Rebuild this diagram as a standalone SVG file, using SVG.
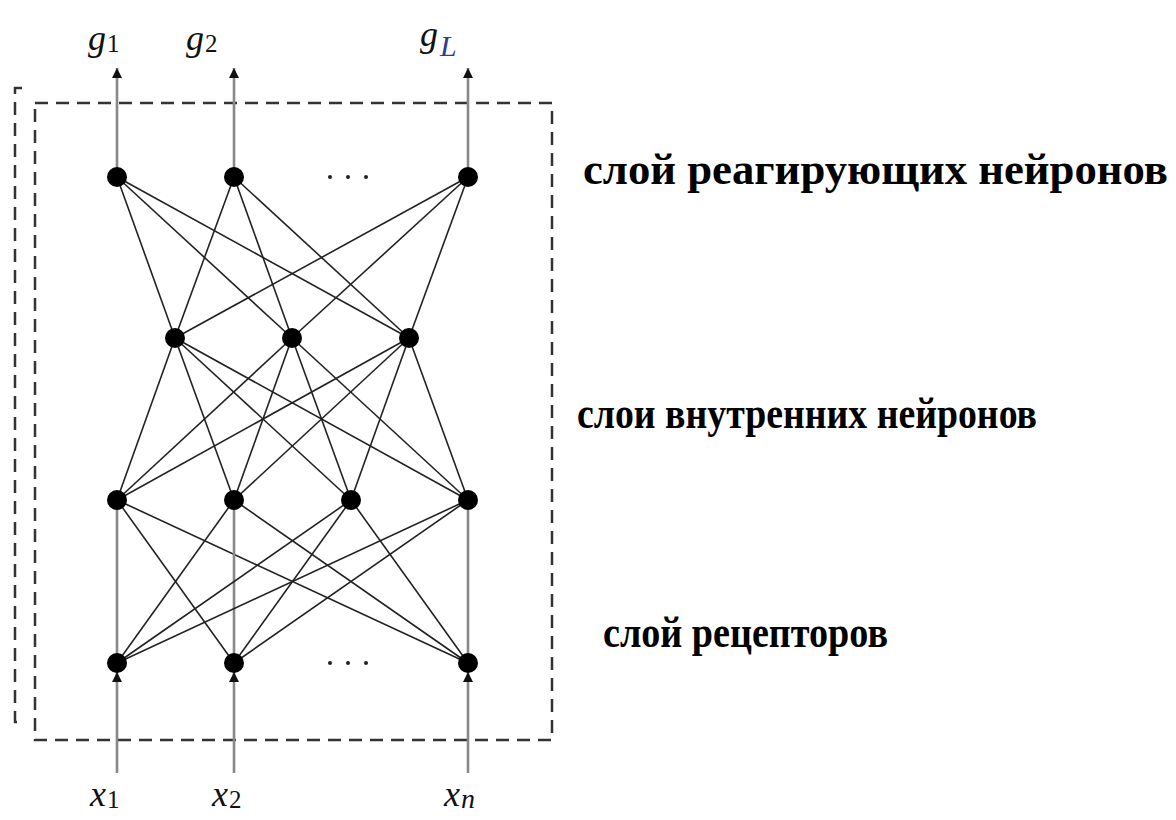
<svg xmlns="http://www.w3.org/2000/svg" width="1176" height="820" viewBox="0 0 1176 820">
<defs>
<marker id="ah" viewBox="0 0 10 10" refX="10" refY="5" markerWidth="4" markerHeight="4" orient="auto"><path d="M0,0 L10,5 L0,10 z" fill="#111"/></marker>
<style>
.e{stroke:#222;stroke-width:1.6;fill:none}
.v{stroke:#888;stroke-width:2.6;fill:none}
.io{stroke:#888;stroke-width:2.6;fill:none;marker-end:url(#ah)}
.n{fill:#000}
.d{fill:#222}
.box{stroke:#333;stroke-width:2.5;fill:none;stroke-dasharray:13 8}
.lbl{font-family:"Liberation Serif",serif;font-weight:bold;font-size:44px;fill:#000}
.m{font-family:"Liberation Serif",serif;font-style:italic;font-size:36px;fill:#111}
.s{font-family:"Liberation Serif",serif;font-style:normal;font-size:25px;fill:#111}
</style>
</defs>
<rect width="1176" height="820" fill="#fff"/>
<g id="frame">
<rect class="box" x="35" y="103" width="517" height="637"/>
<path class="box" d="M22,88 H15 V722 H22"/>
</g>
<g id="connectors">
<line class="e" x1="117" y1="177" x2="175" y2="338"/>
<line class="e" x1="117" y1="177" x2="292" y2="338"/>
<line class="e" x1="117" y1="177" x2="409" y2="338"/>
<line class="e" x1="234" y1="177" x2="175" y2="338"/>
<line class="e" x1="234" y1="177" x2="292" y2="338"/>
<line class="e" x1="234" y1="177" x2="409" y2="338"/>
<line class="e" x1="468" y1="177" x2="175" y2="338"/>
<line class="e" x1="468" y1="177" x2="292" y2="338"/>
<line class="e" x1="468" y1="177" x2="409" y2="338"/>
<line class="e" x1="175" y1="338" x2="117" y2="500"/>
<line class="e" x1="175" y1="338" x2="234" y2="500"/>
<line class="e" x1="175" y1="338" x2="351" y2="500"/>
<line class="e" x1="175" y1="338" x2="468" y2="500"/>
<line class="e" x1="292" y1="338" x2="117" y2="500"/>
<line class="e" x1="292" y1="338" x2="234" y2="500"/>
<line class="e" x1="292" y1="338" x2="351" y2="500"/>
<line class="e" x1="292" y1="338" x2="468" y2="500"/>
<line class="e" x1="409" y1="338" x2="117" y2="500"/>
<line class="e" x1="409" y1="338" x2="234" y2="500"/>
<line class="e" x1="409" y1="338" x2="351" y2="500"/>
<line class="e" x1="409" y1="338" x2="468" y2="500"/>
<line class="v" x1="117" y1="500" x2="117" y2="663"/>
<line class="e" x1="117" y1="500" x2="234" y2="663"/>
<line class="e" x1="117" y1="500" x2="468" y2="663"/>
<line class="e" x1="234" y1="500" x2="117" y2="663"/>
<line class="v" x1="234" y1="500" x2="234" y2="663"/>
<line class="e" x1="234" y1="500" x2="468" y2="663"/>
<line class="e" x1="351" y1="500" x2="117" y2="663"/>
<line class="e" x1="351" y1="500" x2="234" y2="663"/>
<line class="e" x1="351" y1="500" x2="468" y2="663"/>
<line class="e" x1="468" y1="500" x2="117" y2="663"/>
<line class="e" x1="468" y1="500" x2="234" y2="663"/>
<line class="v" x1="468" y1="500" x2="468" y2="663"/>
<line class="io" x1="117" y1="168" x2="117" y2="68"/>
<line class="io" x1="234" y1="168" x2="234" y2="68"/>
<line class="io" x1="468" y1="168" x2="468" y2="68"/>
<line class="io" x1="117" y1="773" x2="117" y2="672"/>
<line class="io" x1="234" y1="773" x2="234" y2="672"/>
<line class="io" x1="468" y1="773" x2="468" y2="672"/>
</g>
<g id="layer-output">
<circle class="n" cx="117" cy="177" r="10"/>
<circle class="n" cx="234" cy="177" r="10"/>
<circle class="n" cx="468" cy="177" r="10"/>
<circle class="d" cx="330" cy="177" r="2"/><circle class="d" cx="348" cy="177" r="2"/><circle class="d" cx="366" cy="177" r="2"/>
</g>
<g id="layer-hidden1">
<circle class="n" cx="175" cy="338" r="10"/>
<circle class="n" cx="292" cy="338" r="10"/>
<circle class="n" cx="409" cy="338" r="10"/>
</g>
<g id="layer-hidden2">
<circle class="n" cx="117" cy="500" r="10"/>
<circle class="n" cx="234" cy="500" r="10"/>
<circle class="n" cx="351" cy="500" r="10"/>
<circle class="n" cx="468" cy="500" r="10"/>
</g>
<g id="layer-input">
<circle class="n" cx="117" cy="663" r="10"/>
<circle class="n" cx="234" cy="663" r="10"/>
<circle class="n" cx="468" cy="663" r="10"/>
<circle class="d" cx="330" cy="663" r="2"/><circle class="d" cx="348" cy="663" r="2"/><circle class="d" cx="366" cy="663" r="2"/>
</g>
<g id="labels-math">
<text class="m" x="88" y="50">g<tspan class="s" dx="1" dy="2">1</tspan></text>
<text class="m" x="186" y="50">g<tspan class="s" dx="1" dy="2">2</tspan></text>
<text class="m" x="420" y="46">g<tspan font-size="30" dx="2" dy="10" fill="#2a3f8a">L</tspan></text>
<text class="m" x="90" y="806">x<tspan class="s" dx="1" dy="2">1</tspan></text>
<text class="m" x="212" y="806">x<tspan class="s" dx="1" dy="2">2</tspan></text>
<text class="m" x="444" y="806">x<tspan font-size="28" dx="1" dy="2">n</tspan></text>
</g>
<g id="labels-layers">
<text class="lbl" x="583" y="184" textLength="585" lengthAdjust="spacingAndGlyphs">слой реагирующих нейронов</text>
<text class="lbl" x="577" y="428" textLength="460" lengthAdjust="spacingAndGlyphs">слои внутренних нейронов</text>
<text class="lbl" x="603" y="647" textLength="285" lengthAdjust="spacingAndGlyphs">слой рецепторов</text>
</g>
</svg>
